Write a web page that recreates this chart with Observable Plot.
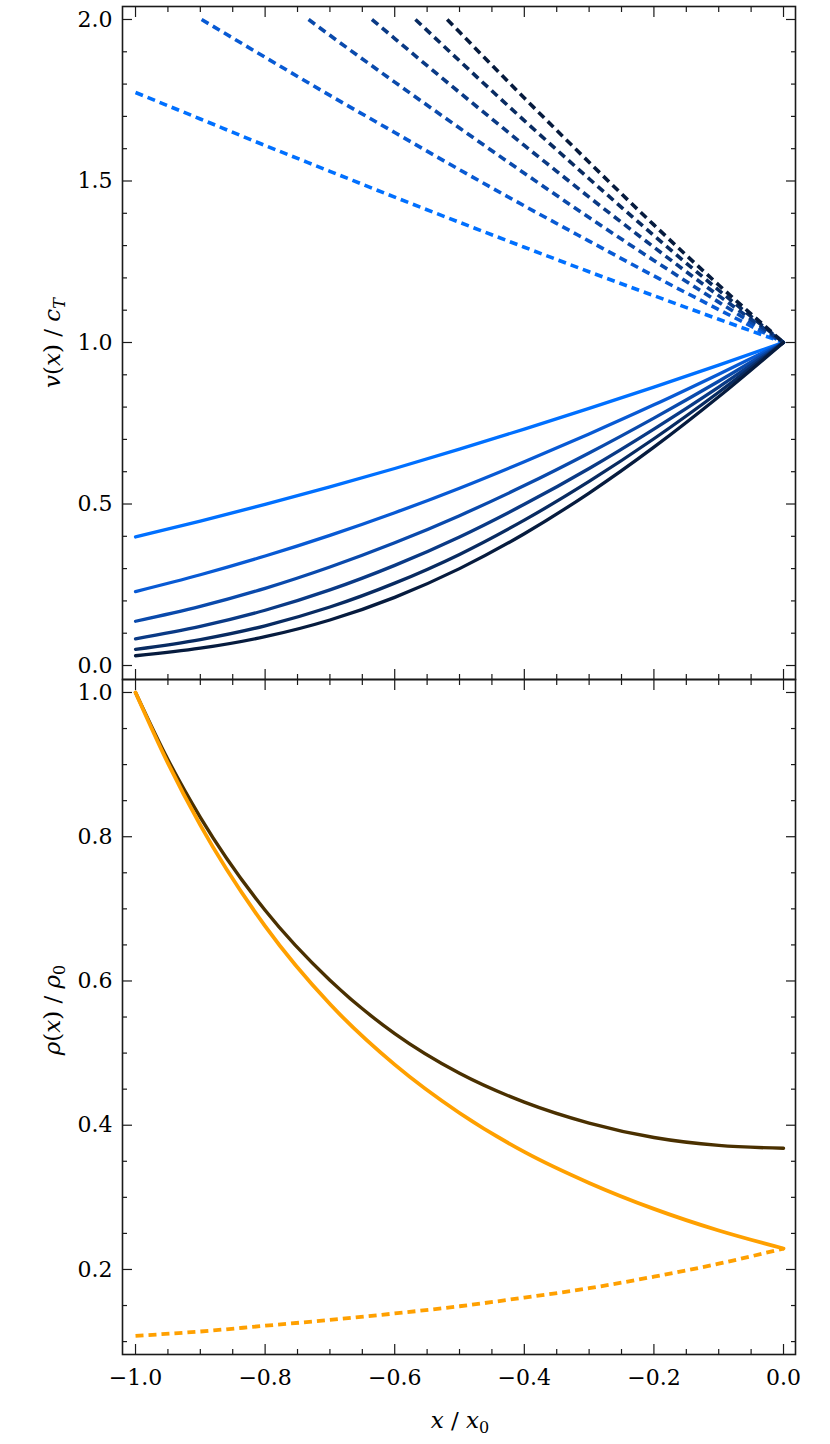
<!DOCTYPE html>
<html><head><meta charset="utf-8">
<script src="https://cdn.jsdelivr.net/npm/d3@7"></script>
<script src="https://cdn.jsdelivr.net/npm/@observablehq/plot@0.6"></script>
<style>
html,body{margin:0;padding:0;background:#fff;}
#wrap{position:relative;width:830px;height:1444px;}
#wrap svg{position:absolute;left:0;overflow:visible;}
</style></head><body><div id="wrap"></div>
<script>
// ---------- data: top panel (velocity) ----------
const xGrid = [-1, -0.9, -0.8, -0.7, -0.6, -0.5, -0.4, -0.3, -0.2, -0.1, 0];
const vSolid1 = [0.398, 0.447, 0.499, 0.553, 0.610, 0.670, 0.732, 0.796, 0.862, 0.930, 1];
const vSolid2 = [0.229, 0.281, 0.339, 0.403, 0.473, 0.549, 0.631, 0.717, 0.807, 0.902, 1];
const vSolid3 = [0.137, 0.183, 0.239, 0.305, 0.380, 0.464, 0.557, 0.658, 0.766, 0.880, 1];
const vSolid4 = [0.0824, 0.121, 0.171, 0.234, 0.310, 0.398, 0.499, 0.610, 0.732, 0.862, 1];
const vSolid5 = [0.0499, 0.0803, 0.123, 0.181, 0.255, 0.344, 0.450, 0.570, 0.702, 0.846, 1];
const vSolid6 = [0.0302, 0.0535, 0.0893, 0.141, 0.211, 0.300, 0.408, 0.534, 0.676, 0.832, 1];

const xDash1 = [-1, -0.9, -0.8, -0.7, -0.6, -0.5, -0.4, -0.3, -0.2, -0.1, 0];
const vDash1 = [1.774, 1.692, 1.610, 1.530, 1.450, 1.372, 1.295, 1.219, 1.145, 1.072, 1];
const xDash2 = [-0.898, -0.8, -0.7, -0.6, -0.5, -0.4, -0.3, -0.2, -0.1, 0];
const vDash2 = [2.0, 1.883, 1.765, 1.650, 1.535, 1.423, 1.314, 1.206, 1.102, 1];
const xDash3 = [-0.733, -0.7, -0.6, -0.5, -0.4, -0.3, -0.2, -0.1, 0];
const vDash3 = [2.0, 1.951, 1.806, 1.664, 1.524, 1.387, 1.254, 1.125, 1];
const xDash4 = [-0.635, -0.6, -0.55, -0.5, -0.45, -0.4, -0.35, -0.3, -0.25, -0.2, -0.15, -0.1, -0.05, 0];
const vDash4 = [2.0, 1.941, 1.857, 1.774, 1.692, 1.610, 1.530, 1.450, 1.372, 1.295, 1.219, 1.145, 1.072, 1];
const xDash5 = [-0.568, -0.5, -0.4, -0.3, -0.2, -0.1, 0];
const vDash5 = [2.0, 1.872, 1.687, 1.507, 1.331, 1.162, 1];
const xDash6 = [-0.519, -0.5, -0.4, -0.3, -0.2, -0.1, 0];
const vDash6 = [2.0, 1.961, 1.757, 1.558, 1.364, 1.178, 1];

// ---------- data: bottom panel (density) ----------
const xDens = [-1, -0.95, -0.9, -0.8, -0.7, -0.6, -0.5, -0.4, -0.3, -0.2, -0.1, 0];
const rhoDark = [1.0, 0.907, 0.827, 0.698, 0.601, 0.527, 0.472, 0.432, 0.403, 0.383, 0.372, 0.368];
const rhoOrange = [1.0, 0.902, 0.816, 0.676, 0.568, 0.484, 0.417, 0.363, 0.320, 0.284, 0.254, 0.229];
const xDensDash = [-1, -0.9, -0.8, -0.7, -0.6, -0.5, -0.4, -0.3, -0.2, -0.1, 0];
const rhoOrangeDash = [0.108, 0.114, 0.122, 0.130, 0.139, 0.149, 0.161, 0.174, 0.190, 0.208, 0.229];

// ---------- ticks ----------
const xMajor = [-1.0, -0.8, -0.6, -0.4, -0.2, 0.0];
const xMinor = [-0.95, -0.9, -0.85, -0.75, -0.7, -0.65, -0.55, -0.5, -0.45, -0.35, -0.3, -0.25, -0.15, -0.1, -0.05];
const yTopMajor = [0.0, 0.5, 1.0, 1.5, 2.0];
const yTopMinor = [0.1, 0.2, 0.3, 0.4, 0.6, 0.7, 0.8, 0.9, 1.1, 1.2, 1.3, 1.4, 1.6, 1.7, 1.8, 1.9];
const yBotMajor = [0.2, 0.4, 0.6, 0.8, 1.0];
const yBotMinor = [0.1, 0.15, 0.25, 0.3, 0.35, 0.45, 0.5, 0.55, 0.65, 0.7, 0.75, 0.85, 0.9, 0.95];

const blues = ["#0070ff", "#085ad4", "#0a4aac", "#0a3a86", "#082b62", "#061b3e"];
const orange = "#ffa000";
const brown = "#4a3000";
const ink = "#1a1a1a";

const solidSets = [vSolid1, vSolid2, vSolid3, vSolid4, vSolid5, vSolid6];
const dashSets = [[xDash1, vDash1], [xDash2, vDash2], [xDash3, vDash3], [xDash4, vDash4], [xDash5, vDash5], [xDash6, vDash6]];

const fmt = d => (d < 0 ? "\u2212" : "") + Math.abs(d).toFixed(1);
const FONT = "DejaVu Serif";
const DASH = "8,5";

function frameTicks(xTickAnchors, yMaj, yMin) {
  const m = [];
  for (const a of ["left", "right"]) {
    m.push(Plot.axisY({ticks: yMaj, anchor: a, tickSize: -10, fill: "none", stroke: ink, strokeWidth: 1.2, label: null}));
    m.push(Plot.axisY({ticks: yMin, anchor: a, tickSize: -5, fill: "none", stroke: ink, strokeWidth: 1.2, label: null}));
  }
  for (const a of xTickAnchors) {
    m.push(Plot.axisX({ticks: xMajor, anchor: a, tickSize: -10, fill: "none", stroke: ink, strokeWidth: 1.2, label: null}));
    m.push(Plot.axisX({ticks: xMinor, anchor: a, tickSize: -5, fill: "none", stroke: ink, strokeWidth: 1.2, label: null}));
  }
  return m;
}

const xDomain = [-1.0201, 0.0185];

// ---------- top panel ----------
const topMarks = [];
solidSets.forEach((vals, i) => {
  const rows = vals.map((v, j) => ({x: xGrid[j], v}));
  topMarks.push(Plot.line(rows, {x: "x", y: "v", stroke: blues[i], strokeWidth: 3.3, curve: "monotone-x"}));
  const [xs, vs] = dashSets[i];
  const drows = vs.map((v, j) => ({x: xs[j], v}));
  topMarks.push(Plot.line(drows, {x: "x", y: "v", stroke: blues[i], strokeWidth: 3.6, strokeDasharray: DASH, strokeLinecap: "butt", curve: "monotone-x"}));
});

const topSvg = Plot.plot({
  width: 830, height: 680,
  marginLeft: 122, marginRight: 35, marginTop: 6, marginBottom: 1,
  x: {domain: xDomain},
  y: {domain: [-0.0433, 2.0402]},
  style: {fontFamily: FONT, fontSize: "22px", background: "transparent", overflow: "visible", top: "0px"},
  marks: [
    ...topMarks,
    ...frameTicks(["top", "bottom"], yTopMajor, yTopMinor),
    Plot.axisY({ticks: yTopMajor, anchor: "left", tickSize: 0, tickPadding: 10, tickFormat: fmt, label: null, fill: "#000", fontSize: 22}),
    Plot.frame({stroke: ink, strokeWidth: 1.6})
  ]
});

// ---------- bottom panel ----------
const botRowsDark = rhoDark.map((v, j) => ({x: xDens[j], r: v}));
const botRowsOr = rhoOrange.map((v, j) => ({x: xDens[j], r: v}));
const botRowsOrD = rhoOrangeDash.map((v, j) => ({x: xDensDash[j], r: v}));

const botSvg = Plot.plot({
  width: 830, height: 765,
  marginLeft: 122, marginRight: 35, marginTop: 0, marginBottom: 90,
  x: {domain: xDomain},
  y: {domain: [0.0821, 1.018]},
  style: {fontFamily: FONT, fontSize: "22px", background: "transparent", overflow: "visible", top: "679px"},
  marks: [
    Plot.line(botRowsOrD, {x: "x", y: "r", stroke: orange, strokeWidth: 3.8, strokeDasharray: DASH, strokeLinecap: "butt", curve: "monotone-x"}),
    Plot.line(botRowsDark, {x: "x", y: "r", stroke: brown, strokeWidth: 3.4, curve: "monotone-x"}),
    Plot.line(botRowsOr, {x: "x", y: "r", stroke: orange, strokeWidth: 3.8, curve: "monotone-x"}),
    ...frameTicks(["top", "bottom"], yBotMajor, yBotMinor),
    Plot.axisY({ticks: yBotMajor, anchor: "left", tickSize: 0, tickPadding: 10, tickFormat: fmt, label: null, fill: "#000", fontSize: 22}),
    Plot.axisX({ticks: xMajor, anchor: "bottom", tickSize: 0, tickPadding: 15, tickFormat: fmt, label: null, fill: "#000", fontSize: 22}),
    Plot.frame({stroke: ink, strokeWidth: 1.6})
  ]
});

const wrap = document.getElementById("wrap");
wrap.appendChild(topSvg);
wrap.appendChild(botSvg);

function addLabel(svg, x, y, rotate, html) {
  d3.select(svg).append("text")
    .attr("transform", `translate(${x},${y})` + (rotate ? " rotate(-90)" : ""))
    .attr("text-anchor", "middle")
    .attr("font-family", FONT)
    .attr("font-size", 23)
    .attr("fill", "#000")
    .html(html);
}
addLabel(topSvg, 60, 343, true,
  '<tspan font-style="italic">v</tspan>(<tspan font-style="italic">x</tspan>) / <tspan font-style="italic">c</tspan><tspan font-style="italic" font-size="16" dy="5">T</tspan>');
addLabel(botSvg, 60, 331, true,
  '<tspan font-style="italic">ρ</tspan>(<tspan font-style="italic">x</tspan>) / <tspan font-style="italic">ρ</tspan><tspan font-size="16" dy="5">0</tspan>');
addLabel(botSvg, 460, 749, false,
  '<tspan font-style="italic">x</tspan> / <tspan font-style="italic">x</tspan><tspan font-size="16" dy="5">0</tspan>');
</script>
</body></html>
